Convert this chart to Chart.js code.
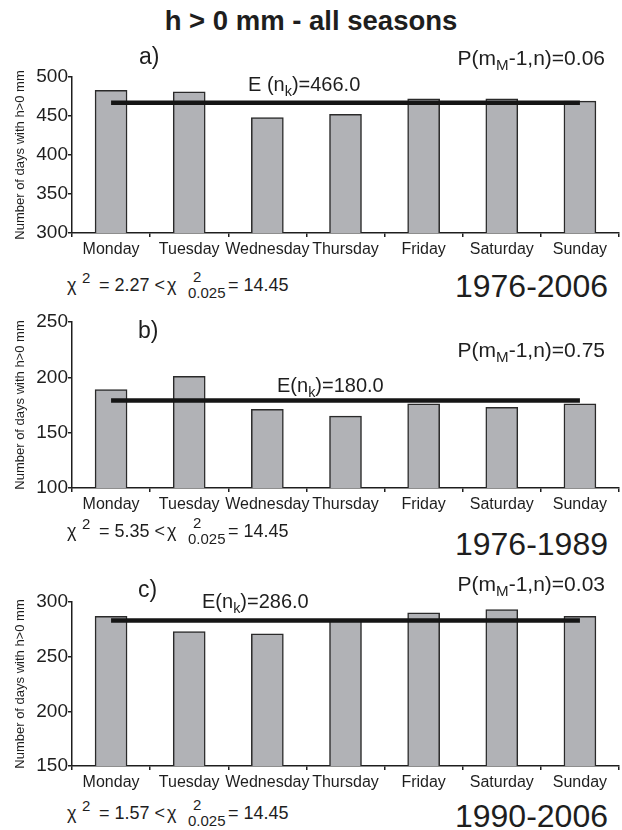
<!DOCTYPE html>
<html>
<head>
<meta charset="utf-8">
<script src="https://cdn.jsdelivr.net/npm/chart.js@4.4.1/dist/chart.umd.min.js"></script>
<style>
  body { margin: 0; background: #fff; }
  #page { position: relative; width: 622px; height: 830px; overflow: hidden;
          font-family: "Liberation Sans", Arial, sans-serif; color: #1e1e1e; }
  canvas { position: absolute; left: 0; }
  .t { position: absolute; line-height: 1; white-space: nowrap; z-index: 2; }
  .t sub { font-size: 0.72em; vertical-align: -0.32em; line-height: 0; }
  .title { left: 0; width: 622px; text-align: center; font-weight: bold; font-size: 27.5px; top: 7px; }
  .lab { font-size: 23px; }
  .p { font-size: 21px; right: 17px; }
  .e { font-size: 20px; }
  .yr { font-size: 32px; right: 14px; }
  .chi { font-size: 18px; left: 67px; width: 240px; height: 24px; }
  .chi span { position: absolute; line-height: 1; }
  .chi .x1 { left: 0; top: 0; }
  .chi .s1 { left: 15px; top: -6.5px; font-size: 15px; }
  .chi .m  { left: 32px; top: 0; }
  .chi .x2 { left: 100px; top: 0; }
  .chi .s2 { left: 126px; top: -7.5px; font-size: 15px; }
  .chi .d2 { left: 121px; top: 8.5px; font-size: 15px; }
  .chi .r  { left: 161px; top: 0; }
</style>
</head>
<body>
<div id="page">
  <div class="t title">h &gt; 0 mm - all seasons</div>

  <canvas id="chartA" width="622" height="203" style="top:60px"></canvas>
  <canvas id="chartB" width="622" height="213" style="top:305px"></canvas>
  <canvas id="chartC" width="622" height="211" style="top:585px"></canvas>

  <div class="t lab" style="left:139px; top:45px">a)</div>
  <div class="t p" style="top:47px">P(m<sub>M</sub>-1,n)=0.06</div>
  <div class="t e" style="left:248px; top:74px">E (n<sub>k</sub>)=466.0</div>
  <div class="t chi" style="top:276px"><span class="x1">χ</span><span class="s1">2</span><span class="m">= 2.27 &lt;</span><span class="x2">χ</span><span class="s2">2</span><span class="d2">0.025</span><span class="r">= 14.45</span></div>
  <div class="t yr" style="top:270px">1976-2006</div>

  <div class="t lab" style="left:138px; top:319px">b)</div>
  <div class="t p" style="top:339px">P(m<sub>M</sub>-1,n)=0.75</div>
  <div class="t e" style="left:277px; top:375px">E(n<sub>k</sub>)=180.0</div>
  <div class="t chi" style="top:522px"><span class="x1">χ</span><span class="s1">2</span><span class="m">= 5.35 &lt;</span><span class="x2">χ</span><span class="s2">2</span><span class="d2">0.025</span><span class="r">= 14.45</span></div>
  <div class="t yr" style="top:528px">1976-1989</div>

  <div class="t lab" style="left:138px; top:578px">c)</div>
  <div class="t p" style="top:573px">P(m<sub>M</sub>-1,n)=0.03</div>
  <div class="t e" style="left:202px; top:591px">E(n<sub>k</sub>)=286.0</div>
  <div class="t chi" style="top:804px"><span class="x1">χ</span><span class="s1">2</span><span class="m">= 1.57 &lt;</span><span class="x2">χ</span><span class="s2">2</span><span class="d2">0.025</span><span class="r">= 14.45</span></div>
  <div class="t yr" style="top:800px">1990-2006</div>
</div>

<script>
const days = ["Monday", "Tuesday", "Wednesday", "Thursday", "Friday", "Saturday", "Sunday"];

// days with h > 0 mm, per weekday
const daysA = [483, 481, 448, 452, 472, 472, 469];   // 1976-2006
const daysB = [189, 201, 171, 165, 176, 173, 176];   // 1976-1989
const daysC = [287, 273, 271, 284, 290, 293, 287];   // 1990-2006

// expected-value line as drawn
const expA = [467, 467, 467, 467, 467, 467, 467];
const expB = [179, 179, 179, 179, 179, 179, 179];
const expC = [283, 283, 283, 283, 283, 283, 283];

const yRangeA = [300, 500];
const yRangeB = [100, 250];
const yRangeC = [150, 300];

const ink = "#1e1e1e";
Chart.defaults.font.family = "'Liberation Sans', Arial, sans-serif";
Chart.defaults.color = ink;

function makePanel(id, values, expected, range) {
  return new Chart(document.getElementById(id), {
    type: "bar",
    data: {
      labels: days,
      datasets: [
        {
          type: "line",
          data: expected,
          borderColor: "#151515",
          borderWidth: 4.5,
          pointRadius: 0,
          order: 0
        },
        {
          data: values,
          backgroundColor: "#b1b2b6",
          borderColor: "#2a2a2a",
          borderWidth: 1.5,
          barThickness: 32,
          order: 1
        }
      ]
    },
    options: {
      responsive: false,
      animation: false,
      events: [],
      layout: { padding: { top: 17, right: 3, left: 0, bottom: 0 } },
      plugins: { legend: { display: false }, tooltip: { enabled: false } },
      scales: {
        x: {
          afterFit: s => { s.height = 30; },
          border: { color: ink, width: 1.5 },
          grid: { drawOnChartArea: false, tickLength: 4, color: ink, lineWidth: 1.5 },
          ticks: { font: { size: 16 }, padding: 3, maxRotation: 0, autoSkip: false }
        },
        y: {
          min: range[0],
          max: range[1],
          afterFit: s => { s.width = 72; },
          border: { color: ink, width: 1.5 },
          grid: { drawOnChartArea: false, tickLength: 4, color: ink, lineWidth: 1.5 },
          ticks: { stepSize: 50, font: { size: 19 }, padding: 0 },
          title: {
            display: true,
            text: "Number of days with h>0 mm",
            font: { size: 13 },
            padding: { top: 13, bottom: 0 }
          }
        }
      }
    }
  });
}

makePanel("chartA", daysA, expA, yRangeA);
makePanel("chartB", daysB, expB, yRangeB);
makePanel("chartC", daysC, expC, yRangeC);
</script>
</body>
</html>
